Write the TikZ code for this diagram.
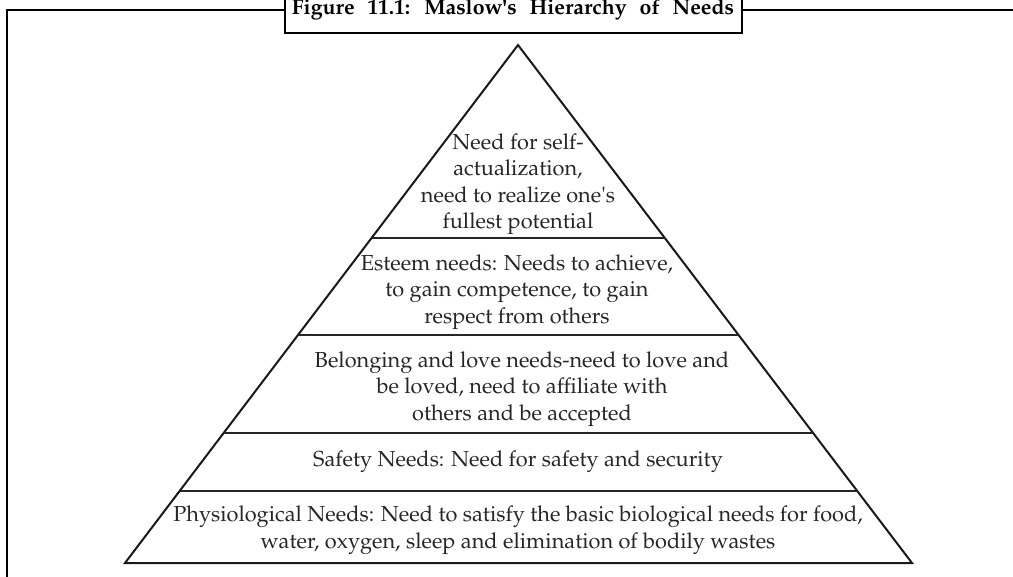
\documentclass[tikz,border=0pt]{standalone}
\usepackage[T1]{fontenc}
\usepackage{mathpazo}
\usetikzlibrary{calc}
\begin{document}
\begin{tikzpicture}[x=0.75pt,y=-0.75pt,
  frameline/.style={line width=2.2pt,black},
  boxline/.style={line width=1.5pt,black},
  pyrline/.style={line width=1.5pt,black!90,line join=miter},
  tierline/.style={line width=1.5pt,black!85},
  tiertext/.style={align=center,inner sep=0pt,text=black!85,
    font=\fontsize{16.3}{19.8}\selectfont}]
\useasboundingbox (0,0) rectangle (1013,576);
% outer frame (top and left edges)
\draw[frameline] (7,590) -- (7,10) -- (1030,10);
% caption box
\draw[boxline,fill=white] (285,-10) rectangle (742,33);
\node[anchor=base,inner sep=0pt,font=\bfseries\fontsize{16}{18}\selectfont] (title) at (513,14)
  {\spaceskip=0.6em\relax Figure 11.1: Maslow\textquotesingle s Hierarchy of Needs};
% pyramid outline
\coordinate (apex) at (518,45);
\coordinate (bl) at (125,563);
\coordinate (br) at (912,563);
\draw[pyrline] (apex) -- (br) -- (bl) -- cycle;
% tier dividers
\foreach \t/\n in {0.3726/a,0.560/b,0.749/c,0.861/d}{
  \coordinate (l\n) at ($(apex)!\t!(bl)$);
  \coordinate (r\n) at ($(apex)!\t!(br)$);
  \draw[tierline] (l\n) -- (r\n);
}
% tier labels
\node[tiertext] (self) at (518,184)
  {Need for self-\\actualization,\\need to realize one\textquotesingle s\\fullest potential};
\node[tiertext] (esteem) at (517,292)
  {Esteem needs: Needs to achieve,\\to gain competence, to gain\\respect from others};
\node[tiertext] (love) at (522,389)
  {Belonging and love needs-need to love and\\be loved, need to affiliate with\\others and be accepted};
\node[tiertext] (safety) at (518,462)
  {Safety Needs: Need for safety and security};
\node[tiertext] (phys) at (518,530)
  {Physiological Needs: Need to satisfy the basic biological needs for food,\\water, oxygen, sleep and elimination of bodily wastes};
\end{tikzpicture}
\end{document}
